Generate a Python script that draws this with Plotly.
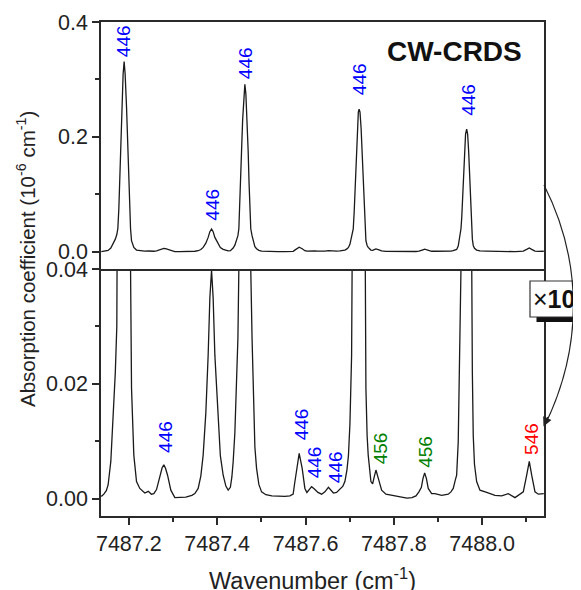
import plotly.graph_objects as go

# ---------------- data ----------------
wavenumber = [
    7487.1377, 7487.1434, 7487.1490, 7487.1531, 7487.1592, 7487.1644, 7487.1694, 7487.1728,
    7487.1751, 7487.1774, 7487.1796, 7487.1821, 7487.1841, 7487.1871, 7487.1894, 7487.1916,
    7487.1948, 7487.1968, 7487.1993, 7487.2016, 7487.2039, 7487.2061, 7487.2086, 7487.2113,
    7487.2174, 7487.2249, 7487.2362, 7487.2442, 7487.2510, 7487.2566, 7487.2627, 7487.2702,
    7487.2754, 7487.2793, 7487.2831, 7487.2877, 7487.2951, 7487.3042, 7487.3155, 7487.3291,
    7487.3427, 7487.3495, 7487.3570, 7487.3631, 7487.3683, 7487.3744, 7487.3796, 7487.3835,
    7487.3873, 7487.3909, 7487.3948, 7487.4023, 7487.4072, 7487.4136, 7487.4197, 7487.4249,
    7487.4299, 7487.4333, 7487.4362, 7487.4401, 7487.4440, 7487.4470, 7487.4491, 7487.4514,
    7487.4532, 7487.4552, 7487.4577, 7487.4605, 7487.4627, 7487.4650, 7487.4677, 7487.4702,
    7487.4722, 7487.4741, 7487.4761, 7487.4790, 7487.4815, 7487.4854, 7487.4892, 7487.4944,
    7487.5006, 7487.5103, 7487.5239, 7487.5375, 7487.5533, 7487.5647, 7487.5721, 7487.5749,
    7487.5798, 7487.5857, 7487.5925, 7487.5986, 7487.6032, 7487.6088, 7487.6138, 7487.6202,
    7487.6281, 7487.6365, 7487.6439, 7487.6519, 7487.6575, 7487.6632, 7487.6704, 7487.6779,
    7487.6847, 7487.6892, 7487.6938, 7487.6972, 7487.7006, 7487.7044, 7487.7081, 7487.7103,
    7487.7124, 7487.7146, 7487.7171, 7487.7196, 7487.7214, 7487.7234, 7487.7259, 7487.7284,
    7487.7307, 7487.7327, 7487.7345, 7487.7368, 7487.7395, 7487.7420, 7487.7481, 7487.7520,
    7487.7556, 7487.7595, 7487.7647, 7487.7724, 7487.7821, 7487.7957, 7487.8070, 7487.8184,
    7487.8297, 7487.8410, 7487.8501, 7487.8568, 7487.8624, 7487.8659, 7487.8698, 7487.8738,
    7487.8779, 7487.8856, 7487.8931, 7487.9083, 7487.9232, 7487.9293, 7487.9345, 7487.9390,
    7487.9422, 7487.9458, 7487.9481, 7487.9502, 7487.9520, 7487.9538, 7487.9558, 7487.9579,
    7487.9601, 7487.9624, 7487.9649, 7487.9671, 7487.9694, 7487.9714, 7487.9733, 7487.9749,
    7487.9762, 7487.9778, 7487.9798, 7487.9826, 7487.9875, 7487.9950, 7488.0102, 7488.0290,
    7488.0442, 7488.0591, 7488.0743, 7488.0856, 7488.0931, 7488.1008, 7488.1067, 7488.1121,
    7488.1196, 7488.1271, 7488.1395,
]
absorption = [
    0.0004, 0.0008, 0.0014, 0.0024, 0.0065, 0.0134, 0.0220, 0.0300,
    0.0400, 0.0750, 0.1360, 0.2000, 0.2520, 0.3100, 0.3310, 0.3100,
    0.2520, 0.2000, 0.1360, 0.0750, 0.0400, 0.0193, 0.0120, 0.0076,
    0.0030, 0.0018, 0.0010, 0.0013, 0.0008, 0.0009, 0.0016, 0.0041,
    0.0054, 0.0059, 0.0053, 0.0041, 0.0015, 0.0002, 0.0002, 0.0003,
    0.0006, 0.0009, 0.0018, 0.0040, 0.0076, 0.0150, 0.0250, 0.0350,
    0.0398, 0.0350, 0.0250, 0.0134, 0.0075, 0.0041, 0.0022, 0.0015,
    0.0020, 0.0038, 0.0064, 0.0115, 0.0192, 0.0280, 0.0400, 0.0800,
    0.1200, 0.1750, 0.2300, 0.2750, 0.2914, 0.2750, 0.2300, 0.1750,
    0.1200, 0.0800, 0.0400, 0.0280, 0.0192, 0.0090, 0.0053, 0.0025,
    0.0012, 0.0007, 0.0005, 0.0004, 0.0004, 0.0005, 0.0008, 0.0024,
    0.0053, 0.0079, 0.0053, 0.0018, 0.0011, 0.0016, 0.0021, 0.0017,
    0.0011, 0.0008, 0.0012, 0.0020, 0.0015, 0.0010, 0.0011, 0.0016,
    0.0022, 0.0030, 0.0050, 0.0075, 0.0130, 0.0250, 0.0400, 0.0700,
    0.1100, 0.1650, 0.2150, 0.2430, 0.2484, 0.2430, 0.2150, 0.1650,
    0.1100, 0.0700, 0.0400, 0.0192, 0.0110, 0.0076, 0.0030, 0.0026,
    0.0038, 0.0050, 0.0036, 0.0015, 0.0008, 0.0006, 0.0005, 0.0003,
    0.0001, 0.0002, 0.0005, 0.0012, 0.0020, 0.0035, 0.0045, 0.0035,
    0.0018, 0.0009, 0.0009, 0.0006, 0.0008, 0.0012, 0.0018, 0.0032,
    0.0041, 0.0099, 0.0192, 0.0280, 0.0400, 0.0600, 0.0950, 0.1350,
    0.1750, 0.2050, 0.2135, 0.2050, 0.1750, 0.1350, 0.0950, 0.0600,
    0.0400, 0.0220, 0.0110, 0.0060, 0.0030, 0.0015, 0.0011, 0.0006,
    0.0005, 0.0009, 0.0002, 0.0008, 0.0012, 0.0041, 0.0065, 0.0041,
    0.0012, 0.0008, 0.0009,
]

x_range = [7487.137, 7488.140]
x_ticks = [7487.2, 7487.4, 7487.6, 7487.8, 7488.0]
x_tick_labels = ["7487.2", "7487.4", "7487.6", "7487.8", "7488.0"]
x_minor = [7487.3, 7487.5, 7487.7, 7487.9, 7488.1]

top_range = [-0.03, 0.4]
top_ticks = [0.0, 0.2, 0.4]
top_tick_labels = ["0.0", "0.2", "0.4"]
top_minor = [0.1, 0.3]

bot_range = [-0.003, 0.04]
bot_ticks = [0.00, 0.02, 0.04]
bot_tick_labels = ["0.00", "0.02", "0.04"]
bot_minor = [0.01, 0.03]

# peak assignment labels
label_text = ["446", "446", "446", "446", "446",
              "446", "446", "446", "446", "456", "456", "546"]
label_panel = ["top", "top", "top", "top", "top",
               "bot", "bot", "bot", "bot", "bot", "bot", "bot"]
label_wn = [7487.187, 7487.390, 7487.463, 7487.721, 7487.969,
            7487.2815, 7487.591, 7487.620, 7487.667, 7487.770, 7487.870, 7488.113]
label_level = [0.3355, 0.0502, 0.297, 0.269, 0.234,
               0.0076, 0.00975, 0.00326, 0.00239, 0.00557, 0.0050, 0.0073]
label_color = ["#0000ff"] * 9 + ["#008000", "#008000", "#ff0000"]

# ---------------- figure ----------------
# page has an 8px body margin, so the figure is sized to fill the remaining window
OFF = 8
W, H = 581 - OFF, 590 - OFF
L, T = 101 - OFF, 22 - OFF
R = W - (544 - OFF)
B = H - (516 - OFF)
FONT = "Arial, 'Liberation Sans', sans-serif"
AX = "#2a2a2a"


def PX(x):  # page pixel -> paper
    return (x - OFF - L) / (W - L - R)


def PY(y):
    return (H - B - (y - OFF)) / (H - T - B)


fig = go.Figure()
for xa, ya in (("x", "y"), ("x2", "y2")):
    fig.add_trace(go.Scatter(x=wavenumber, y=absorption, mode="lines",
                             line=dict(color="#1a1a1a", width=1.3),
                             xaxis=xa, yaxis=ya, hoverinfo="skip", showlegend=False))

common = dict(showline=True, linecolor=AX, linewidth=1.6, showgrid=False, automargin=False,
              zeroline=False, tickcolor=AX, tickwidth=1.5, ticklen=7,
              tickfont=dict(family=FONT, size=21.5, color="#222"))

fig.update_layout(
    template="none",
    width=W, height=H, margin=dict(l=L, r=R, t=T, b=B, autoexpand=False),
    paper_bgcolor="white", plot_bgcolor="white", showlegend=False,
    xaxis=dict(domain=[0, 1], anchor="y", range=x_range, tickmode="array",
               tickvals=x_ticks, ticktext=x_tick_labels, ticks="outside", mirror=False,
               minor=dict(tickvals=x_minor, ticks="outside", ticklen=4,
                          tickwidth=1.5, tickcolor=AX), **common),
    xaxis2=dict(domain=[0, 1], anchor="y2", matches="x", range=x_range, mirror=True,
                showticklabels=False, ticks="", **common),
    yaxis=dict(domain=[0, 0.5], anchor="x", range=bot_range, tickmode="array",
               tickvals=bot_ticks, ticktext=bot_tick_labels, ticks="outside", mirror=True,
               minor=dict(tickvals=bot_minor, ticks="outside", ticklen=4,
                          tickwidth=1.5, tickcolor=AX), **common),
    yaxis2=dict(domain=[0.5, 1], anchor="x2", range=top_range, tickmode="array",
                tickvals=top_ticks, ticktext=top_tick_labels, ticks="outside", mirror=True,
                minor=dict(tickvals=top_minor, ticks="outside", ticklen=4,
                           tickwidth=1.5, tickcolor=AX), **common),
)

annotations = []
for txt, pan, wn, lev, col in zip(label_text, label_panel, label_wn, label_level, label_color):
    xr, yr = ("x2", "y2") if pan == "top" else ("x", "y")
    annotations.append(dict(text=txt, x=wn, y=lev, xref=xr, yref=yr, showarrow=False,
                            textangle=-90, xanchor="center", yanchor="bottom",
                            font=dict(family=FONT, size=19, color=col)))

annotations += [
    dict(text="<b>CW-CRDS</b>", x=PX(454), y=PY(51), xref="paper", yref="paper",
         showarrow=False, xanchor="center", yanchor="middle",
         font=dict(family=FONT, size=28, color="#111")),
    dict(text="Absorption coefficient (10<sup>-6</sup> cm<sup>-1</sup>)", x=PX(26), y=PY(259),
         xref="paper", yref="paper", showarrow=False, textangle=-90,
         xanchor="center", yanchor="middle", font=dict(family=FONT, size=20.5, color="#222")),
    dict(text="Wavenumber (cm<sup>-1</sup>)", x=PX(312.5), y=PY(579), xref="paper",
         yref="paper", showarrow=False, xanchor="center", yanchor="middle",
         font=dict(family=FONT, size=23.5, color="#222")),
    dict(text="×<b>10</b>", x=PX(531), y=PY(299), xref="paper", yref="paper",
         showarrow=False, xanchor="left", yanchor="middle",
         font=dict(family=FONT, size=25, color="#111")),
    dict(text="", x=PX(543.5), y=PY(426.5), xref="paper", yref="paper", showarrow=True,
         ax=5, ay=-11, arrowhead=2, arrowsize=1.4, arrowwidth=1.3, arrowcolor="#222",
         standoff=0),
]
fig.update_layout(annotations=annotations)

shapes = [
    dict(type="rect", xref="paper", yref="paper", x0=PX(536.5), x1=PX(600),
         y0=PY(322), y1=PY(287), fillcolor="#111", line=dict(width=0)),
    dict(type="rect", xref="paper", yref="paper", x0=PX(530), x1=PX(596),
         y0=PY(317), y1=PY(281), fillcolor="white", line=dict(color="#333", width=1.2)),
    dict(type="path", xref="paper", yref="paper",
         path=(f"M {PX(544)},{PY(185)} C {PX(583)},{PY(262)} "
               f"{PX(583)},{PY(347)} {PX(545)},{PY(425)}"),
         line=dict(color="#222", width=1.2)),
]
fig.update_layout(shapes=shapes)

fig.write_html("out.html")
